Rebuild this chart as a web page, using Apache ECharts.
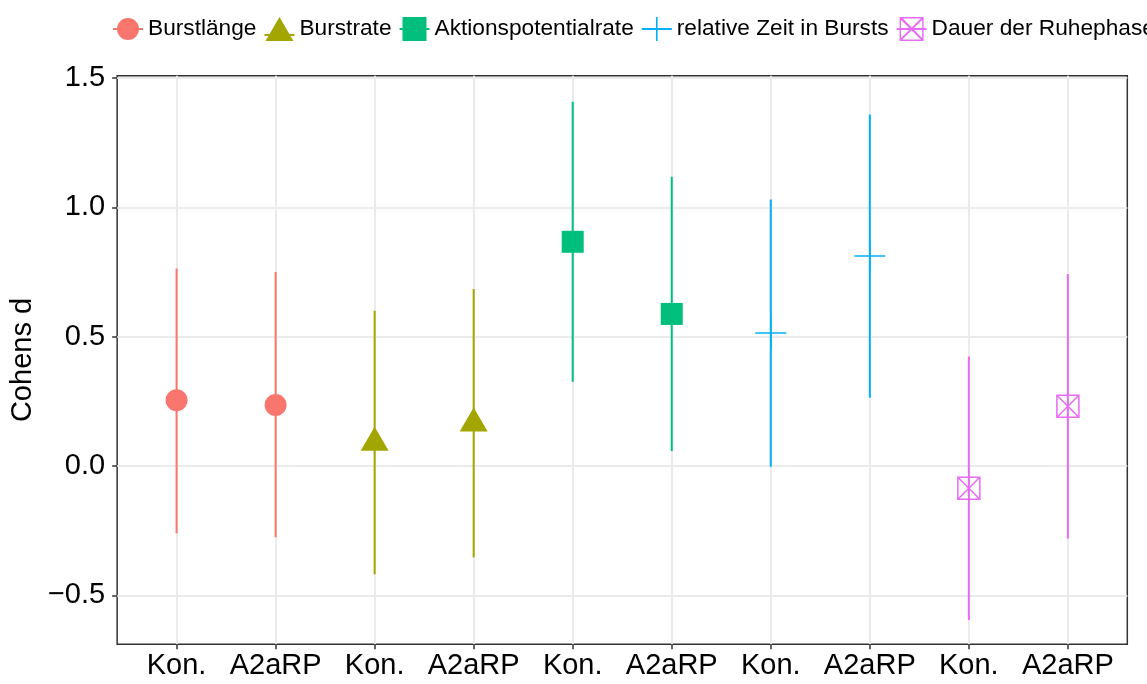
<!DOCTYPE html>
<html>
<head>
<meta charset="utf-8">
<title>Cohens d</title>
<script src="https://cdn.jsdelivr.net/npm/echarts@6/dist/echarts.min.js"></script>
<style>
  html, body { margin: 0; padding: 0; background: #ffffff; }
  #chart { width: 1147px; height: 684px; }
</style>
</head>
<body>
<div id="chart"></div>
<script>
// Effect sizes (Cohens d) with confidence intervals per measure and group
const categories = ['Kon.', 'A2aRP', 'Kon.', 'A2aRP', 'Kon.', 'A2aRP', 'Kon.', 'A2aRP', 'Kon.', 'A2aRP'];
const groupNames = ['Burstlänge', 'Burstrate', 'Aktionspotentialrate', 'relative Zeit in Bursts', 'Dauer der Ruhephase'];
const groupOf = [0, 0, 1, 1, 2, 2, 3, 3, 4, 4];
const estimate = [0.254, 0.236, 0.090, 0.164, 0.867, 0.588, 0.514, 0.812, -0.086, 0.231];
const lower = [-0.260, -0.276, -0.419, -0.353, 0.326, 0.058, -0.003, 0.264, -0.596, -0.280];
const upper = [0.764, 0.750, 0.600, 0.684, 1.409, 1.119, 1.031, 1.359, 0.423, 0.742];
const yTicks = [-0.5, 0, 0.5, 1, 1.5];

const groupColors = ['#F8766D', '#A3A500', '#00BF7D', '#00B0F6', '#E76BF3'];
const FONT = '"Liberation Sans", Arial, Helvetica, sans-serif';

// marker shapes drawn on the plot
const plusPath = 'path://M0,15.5 L31,15.5 M15.5,0 L15.5,31';
const boxXPath = 'path://M0,0 L22,0 L22,22 L0,22 Z M0,0 L22,22 M22,0 L0,22';
const markers = [
  { symbol: 'circle', size: 22, offset: [0, 0], stroked: false },
  { symbol: 'triangle', size: [28, 24], offset: [0, -4], stroked: false },
  { symbol: 'rect', size: 22, offset: [0, 0], stroked: false },
  { symbol: plusPath, size: 31, offset: [0, 0], stroked: true },
  { symbol: boxXPath, size: 22, offset: [0, 0], stroked: true }
];

// legend keys: marker with a horizontal line through it (30 x 24 box)
const keyLine = 'M0,11 L30,11 L30,13 L0,13 Z ';
const legendIcons = [
  'path://' + keyLine + 'M15,1 A11,11 0 1,1 14.99,1 Z M15,0 L15.01,0 M15,24 L15.01,24 Z',
  'path://M0,17 L30,17 L30,19 L0,19 Z M15,0 L29,24 L1,24 Z',
  'path://' + keyLine + 'M3,0 L27,0 L27,24 L3,24 Z',
  'path://' + keyLine + 'M14.2,0 L15.8,0 L15.8,24 L14.2,24 Z',
  'path://' + keyLine +
    'M3,0 L27,0 L27,24 L3,24 Z M4.4,1.4 L4.4,22.6 L25.6,22.6 L25.6,1.4 Z ' +
    'M3.6,0 L4.8,0 L27,22.6 L27,24 L25.8,24 L3,1.4 L3,0 Z ' +
    'M27,0 L27,1.4 L4.2,24 L3,24 L3,22.6 L25.8,0 Z'
];

const series = [];
groupNames.forEach((name, g) => {
  const idx = categories.map((_, i) => i).filter(i => groupOf[i] === g);
  const rows = idx.map(i => [i + 1, estimate[i], lower[i], upper[i]]);
  const color = groupColors[g];
  series.push({
    name: name,
    type: 'custom',
    data: rows,
    encode: { x: 0, y: [2, 3] },
    silent: true,
    z: 2,
    renderItem: function (params, api) {
      const x = api.value(0);
      const p1 = api.coord([x, api.value(2)]);
      const p2 = api.coord([x, api.value(3)]);
      return {
        type: 'line',
        shape: { x1: p1[0], y1: p1[1], x2: p2[0], y2: p2[1] },
        style: { stroke: color, lineWidth: 2 }
      };
    }
  });
  const m = markers[g];
  series.push({
    name: name,
    type: 'scatter',
    data: rows.map(r => [r[0], r[1]]),
    symbol: m.symbol,
    symbolSize: m.size,
    symbolOffset: m.offset,
    silent: true,
    z: 3,
    itemStyle: m.stroked
      ? { color: 'rgba(0,0,0,0)', borderColor: color, borderWidth: 1.5, opacity: 1 }
      : { color: color, opacity: 1 }
  });
});

const chart = echarts.init(document.getElementById('chart'), null, { renderer: 'canvas' });
chart.setOption({
  animation: false,
  backgroundColor: '#ffffff',
  textStyle: { fontFamily: FONT },
  legend: {
    left: 108,
    top: 12,
    width: 1400,
    itemGap: 8,
    itemWidth: 30,
    itemHeight: 24,
    selectedMode: false,
    textStyle: { fontFamily: FONT, fontSize: 22.7, color: '#000000' },
    data: groupNames.map((name, g) => ({
      name: name,
      icon: legendIcons[g],
      itemStyle: { color: groupColors[g], borderWidth: 0 }
    }))
  },
  grid: {
    left: 115.3,
    top: 75.7,
    width: 1012,
    height: 568.6,
    show: true,
    borderColor: '#333333',
    borderWidth: 1.5,
    backgroundColor: 'transparent'
  },
  xAxis: {
    type: 'value',
    min: 0.4,
    max: 10.6,
    axisLine: { show: false, onZero: false },
    axisTick: {
      show: true,
      customValues: categories.map((_, i) => i + 1),
      length: 5,
      lineStyle: { color: '#333333', width: 1.5 }
    },
    axisLabel: {
      customValues: categories.map((_, i) => i + 1),
      formatter: v => categories[Math.round(v) - 1] || '',
      fontFamily: FONT,
      fontSize: 29,
      color: '#000000',
      margin: 7
    },
    splitLine: { show: true, lineStyle: { color: '#EBEBEB', width: 2 } }
  },
  yAxis: {
    type: 'value',
    min: -0.6895,
    max: 1.5093,
    name: 'Cohens d',
    nameLocation: 'middle',
    nameGap: 78,
    nameRotate: 90,
    nameTextStyle: { fontFamily: FONT, fontSize: 29, color: '#000000' },
    axisLine: { show: false, onZero: false },
    axisTick: {
      show: true,
      customValues: yTicks,
      length: 5,
      lineStyle: { color: '#333333', width: 1.5 }
    },
    axisLabel: {
      customValues: yTicks,
      formatter: v => (v < 0 ? '\u2212' : '') + Math.abs(v).toFixed(1),
      fontFamily: FONT,
      fontSize: 29,
      color: '#000000',
      margin: 12
    },
    splitLine: { show: true, lineStyle: { color: '#EBEBEB', width: 2 } }
  },
  series: series
});
</script>
</body>
</html>
